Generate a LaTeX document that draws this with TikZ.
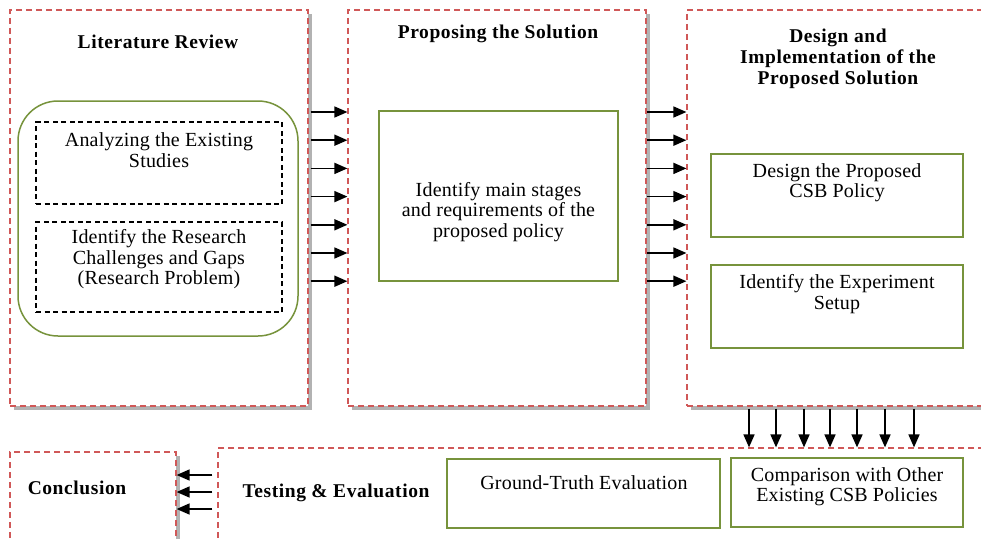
\documentclass[tikz,border=0pt]{standalone}
\usepackage{fontspec}
\setmainfont{Liberation Serif}
\newfontfamily\bodyfont[LetterSpace=1]{Liberation Serif}
\newfontfamily\headfont[LetterSpace=3]{Liberation Serif}
\usetikzlibrary{shadows,arrows.meta}
\definecolor{redline}{RGB}{208,88,88}
\definecolor{greenline}{RGB}{119,147,60}
\tikzset{
  stagebox/.style={draw=redline, line width=1.2pt, dash pattern=on 6pt off 4pt, fill=white,
    drop shadow={shadow xshift=4pt, shadow yshift=-4pt, fill=black, opacity=0.3}},
  greenbox/.style={draw=greenline, line width=1.5pt, fill=white},
  blackdash/.style={draw=black, line width=1.4pt, dash pattern=on 5pt off 3.5pt},
  txt/.style={font=\bodyfont\fontsize{20}{20.5}\selectfont, align=center, inner sep=0pt},
  head/.style={font=\headfont\bfseries\fontsize{19.5}{21}\selectfont, align=center, inner sep=0pt},
  arr/.style={-{Triangle[length=13pt,width=11pt]}, line width=1.6pt, black},
}
\begin{document}
\begin{tikzpicture}[x=1pt,y=-1pt]
\clip (0,0) rectangle (981,538);
\fill[white] (0,0) rectangle (981,538);
% stage boxes
\node[stagebox, minimum width=298pt, minimum height=396pt] (lr) at (159,208) {};
\node[stagebox, minimum width=298pt, minimum height=396pt] (ps) at (497,208) {};
\node[stagebox, minimum width=320pt, minimum height=396pt] (di) at (847,208) {};
\node[stagebox, minimum width=782pt, minimum height=112pt] (te) at (609,504) {};
\node[stagebox, minimum width=166pt, minimum height=108pt] (cl) at (93,506) {};
% titles
\node[head] (lrt) at (158,42) {Literature Review};
\node[head] (pst) at (498,34) {Proposing the Solution};
\node[head] (dit) at (838,58.5) {Design and\\Implementation of the\\Proposed Solution};
\node[head] (tet) at (336,493) {Testing \& Evaluation};
\node[head] (clt) at (77,488) {Conclusion};
% literature review content
\node[draw=greenline, line width=1.5pt, rounded corners=40pt, minimum width=280pt, minimum height=235pt] (lrg) at (158,218.5) {};
\node[blackdash, minimum width=246pt, minimum height=82pt] (db1) at (159,163) {};
\node[txt] (db1t) at (159,150) {Analyzing the Existing\\Studies};
\node[blackdash, minimum width=246pt, minimum height=90pt] (db2) at (159,267) {};
\node[txt] (db2t) at (159,259.5) {Identify the Research\\Challenges and Gaps\\(Research Problem)};
% proposing content
\node[greenbox, minimum width=239pt, minimum height=170pt] (psg) at (498.5,196) {};
\node[txt] (psgt) at (498.5,212) {Identify main stages\\and requirements of the\\proposed policy};
% design content
\node[greenbox, minimum width=252pt, minimum height=83pt] (d1) at (837,195.5) {};
\node[txt] (d1t) at (837,182.5) {Design the Proposed\\CSB Policy};
\node[greenbox, minimum width=252pt, minimum height=83pt] (d2) at (837,306.5) {};
\node[txt] (d2t) at (837,294) {Identify the Experiment\\Setup};
% testing content
\node[greenbox, minimum width=273pt, minimum height=69pt] (gt) at (583.5,493.5) {};
\node[txt] (gtt) at (584,483) {Ground-Truth Evaluation};
\node[greenbox, minimum width=232pt, minimum height=69pt] (cmp) at (847,492.5) {};
\node[txt] (cmpt) at (847,486.5) {Comparison with Other\\Existing CSB Policies};
% arrows
\foreach \yy in {112,140.2,168.4,196.6,224.8,253,281.2} {
  \draw[arr, shorten <=2pt] (lr.east |- 0,\yy) -- (ps.west |- 0,\yy);
  \draw[arr] (ps.east |- 0,\yy) -- (di.west |- 0,\yy);
}
\foreach \xx in {749,776,804,830,857,885,914} {
  \draw[arr, shorten <=2pt] (di.south -| \xx,0) -- (te.north -| \xx,0);
}
\foreach \yy in {475,492,509} {
  \draw[arr, shorten <=5pt] (te.west |- 0,\yy) -- (cl.east |- 0,\yy);
}
\end{tikzpicture}
\end{document}
